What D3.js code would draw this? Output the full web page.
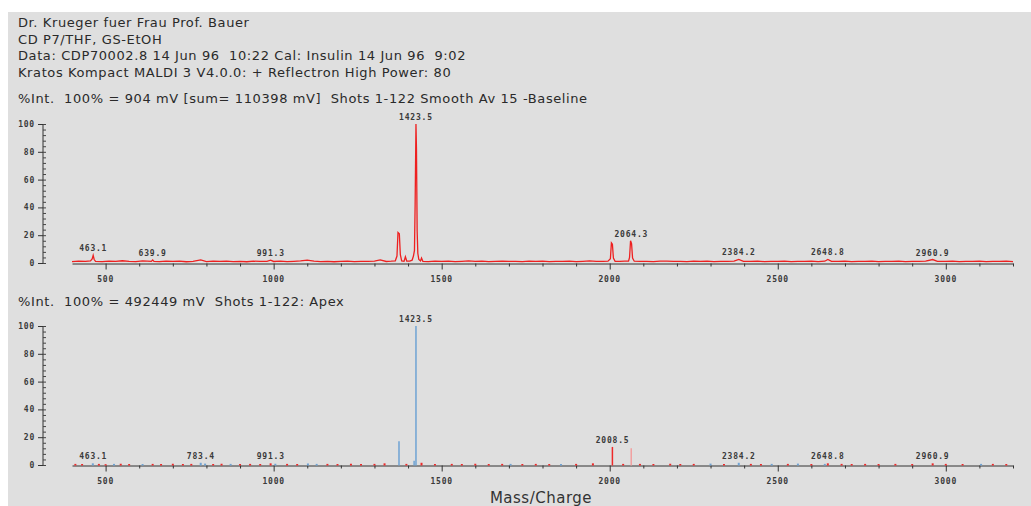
<!DOCTYPE html>
<html>
<head>
<meta charset="utf-8">
<script src="https://cdn.jsdelivr.net/npm/d3@7"></script>
<style>
  body { margin: 0; background: #fff; }
  svg { display: block; }
  .hdr { font: 13px "DejaVu Sans", sans-serif; fill: #2a2a2a; letter-spacing: 0.6px; white-space: pre; }
  .tk { font: bold 8px "DejaVu Sans Mono", monospace; fill: #3a3a3a; letter-spacing: 0.8px; }
</style>
</head>
<body>
<div id="chart"></div>
<script>
// header text
const headerLines = [
  'Dr. Krueger fuer Frau Prof. Bauer',
  'CD P7/THF, GS-EtOH',
  'Data: CDP70002.8 14 Jun 96  10:22 Cal: Insulin 14 Jun 96  9:02',
  'Kratos Kompact MALDI 3 V4.0.0: + Reflectron High Power: 80'
];
const topTitle = '%Int.  100% = 904 mV [sum= 110398 mV]  Shots 1-122 Smooth Av 15 -Baseline';
const bottomTitle = '%Int.  100% = 492449 mV  Shots 1-122: Apex';

const xTicks = [500, 1000, 1500, 2000, 2500, 3000];
const yTicks = [0, 20, 40, 60, 80, 100];

// smoothed profile (m/z, %int)
const topTrace = [
  [400,1.0],[420,1.3],[440,1.1],[455,1.5],[460,3],[463,5.5],[466,2.5],[470,1.2],[490,1.0],[510,1.4],
  [530,1.1],[550,1.6],[570,1.2],[590,1.0],[610,1.5],[636,1.2],[640,2.2],[644,1.2],[660,1.0],[680,1.4],
  [700,1.1],[720,1.3],[740,0.9],[760,1.2],[783,2.3],[800,1.0],[820,1.3],[840,1.1],[860,1.4],[880,1.0],
  [900,1.2],[920,0.9],[940,1.3],[960,1.1],[980,1.2],[991,2.0],[1000,1.1],[1020,1.4],[1040,1.0],[1060,1.2],
  [1080,1.5],[1100,2.1],[1120,1.3],[1140,1.0],[1160,1.2],[1180,0.9],[1200,1.1],[1220,1.3],[1240,1.0],[1260,1.2],
  [1280,1.1],[1300,1.4],[1317,2.2],[1335,1.1],[1350,1.3],[1362,1.6],[1367,5],[1370,22],[1374,21],[1377,6],
  [1381,1.5],[1388,1.2],[1392,4.5],[1396,1.4],[1405,1.3],[1412,2],[1416,5],[1419,9],[1421,42],[1423.5,100],
  [1425,82],[1427,23],[1429,7],[1432,2.5],[1437,1.5],[1440,3.5],[1444,1.2],[1460,1.0],[1480,1.3],[1500,1.1],
  [1520,1.4],[1540,1.0],[1560,1.2],[1580,1.5],[1600,1.1],[1620,1.3],[1640,1.0],[1660,1.2],[1680,1.4],[1700,1.1],
  [1720,1.2],[1740,1.0],[1760,1.3],[1780,1.1],[1800,1.4],[1820,1.0],[1840,1.2],[1860,1.1],[1880,1.3],[1900,1.0],
  [1920,1.2],[1940,1.5],[1960,1.1],[1980,1.2],[1995,1.3],[2002,3],[2005,14.5],[2008,13.5],[2011,3.5],[2016,1.2],
  [2030,1.1],[2045,1.3],[2056,1.4],[2059,4],[2062,16],[2065,14],[2068,3.5],[2073,1.3],[2090,1.1],[2110,1.2],
  [2130,1.0],[2150,1.3],[2170,1.4],[2190,1.1],[2210,1.2],[2230,1.0],[2250,1.3],[2270,1.1],[2290,1.4],[2310,1.0],
  [2330,1.2],[2350,1.1],[2370,1.3],[2384,2.6],[2398,1.2],[2420,1.1],[2440,1.3],[2460,1.0],[2480,1.2],[2500,1.1],
  [2520,1.4],[2540,1.0],[2560,1.2],[2580,1.1],[2600,1.3],[2620,1.0],[2640,1.3],[2649,2.6],[2660,1.2],[2680,1.1],
  [2700,1.3],[2720,1.0],[2740,1.2],[2760,1.1],[2780,1.4],[2800,1.0],[2820,1.2],[2840,1.1],[2860,1.3],[2880,1.0],
  [2900,1.2],[2920,1.1],[2940,1.3],[2961,2.5],[2975,1.2],[3000,1.1],[3020,1.3],[3040,1.0],[3060,1.2],[3080,1.1],
  [3100,1.4],[3120,1.0],[3140,1.2],[3160,1.1],[3180,1.3],[3200,1.0]
];
const topLabels = [
  [463.1, 5.5, '463.1'], [639.9, 2.2, '639.9'], [991.3, 2.0, '991.3'], [1423.5, 100, '1423.5'],
  [2064.3, 16, '2064.3'], [2384.2, 2.6, '2384.2'], [2648.8, 2.6, '2648.8'], [2960.9, 2.5, '2960.9']
];

// apex sticks (m/z, %int)
const apexBlue = [
  [462,1.2],[525,0.8],[610,0.7],[783,1.6],[796,1.0],[872,0.8],[1005,0.9],[1102,1.1],[1128,0.8],[1373,17],
  [1418,3],[1423.5,100],[1705,0.8],[1855,0.7],[2300,1.0],[2384,1.6],[2482,0.8],[2560,1.0],[2640,0.8],[3105,0.8]
];
const apexRed = [
  [410,0.8],[430,0.7],[480,0.8],[500,0.6],[545,0.9],[570,0.7],[640,0.8],[665,0.7],[700,0.9],[730,0.7],
  [755,0.8],[820,0.7],[845,0.9],[900,0.7],[930,0.8],[960,0.7],[991,1.2],[1040,0.8],[1070,0.7],[1160,0.8],
  [1190,0.7],[1230,0.9],[1260,0.7],[1300,0.8],[1330,1.2],[1395,0.8],[1440,1.6],[1480,0.7],[1530,0.8],[1560,0.7],
  [1600,0.9],[1640,0.7],[1680,0.8],[1740,0.7],[1780,0.8],[1820,0.7],[1900,0.8],[1950,1.2],[2008,13],[2040,0.8],
  [2090,0.8],[2130,0.7],[2180,0.9],[2210,0.7],[2250,0.8],[2340,0.7],[2420,0.8],[2450,0.7],[2530,0.8],[2600,0.7],
  [2649,1.2],[2690,0.8],[2720,0.7],[2760,0.8],[2800,0.7],[2850,0.8],[2900,0.7],[2961,1.2],[3000,0.8],[3050,0.7],
  [3140,0.8],[3180,0.7]
];
const apexPink = [[2064,12]];
const bottomLabels = [
  [463.1, 1.2, '463.1'], [783.4, 1.6, '783.4'], [991.3, 1.2, '991.3'], [1423.5, 100, '1423.5'],
  [2008.5, 13, '2008.5'], [2384.2, 1.6, '2384.2'], [2648.8, 1.2, '2648.8'], [2960.9, 1.2, '2960.9']
];

const width = 1031, height = 506;
const svg = d3.select('#chart').append('svg')
  .attr('width', width)
  .attr('height', height);

svg.append('rect')
  .attr('x', 8).attr('y', 12)
  .attr('width', width - 8).attr('height', height - 12)
  .attr('fill', '#dfdfdf');

svg.selectAll('.line1')
  .data(headerLines)
  .enter().append('text')
  .attr('class', 'hdr')
  .attr('x', 18)
  .attr('y', (d, i) => 27 + i * 16.5)
  .text(d => d);

const x = d3.scaleLinear().domain([400, 3200]).range([72, 1013]);

const drawPanel = (y0, y100, title, titleY, labels) => {
  const y = d3.scaleLinear().domain([0, 100]).range([y0, y100]);
  const g = svg.append('g');

  g.append('text').attr('class', 'hdr').attr('x', 18).attr('y', titleY).text(title);

  // y axis
  g.append('line')
    .attr('x1', 43).attr('x2', 43)
    .attr('y1', y(0)).attr('y2', y(100))
    .attr('stroke', '#333');
  g.selectAll('.ymin')
    .data(d3.range(0, 101, 4))
    .enter().append('line')
    .attr('x1', 43).attr('x2', 46)
    .attr('y1', d => y(d) + 0.5).attr('y2', d => y(d) + 0.5)
    .attr('stroke', '#444');
  g.selectAll('.ymaj')
    .data(yTicks)
    .enter().append('line')
    .attr('x1', 38).attr('x2', 43)
    .attr('y1', d => y(d) + 0.5).attr('y2', d => y(d) + 0.5)
    .attr('stroke', '#333');
  g.selectAll('.ylab')
    .data(yTicks)
    .enter().append('text')
    .attr('class', 'tk')
    .attr('x', 35)
    .attr('y', d => y(d) + 3)
    .attr('text-anchor', 'end')
    .text(d => d);

  // x axis
  const xAxis = d3.axisBottom(x)
    .tickValues(d3.range(500, 3201, 100))
    .tickSize(3)
    .tickSizeOuter(0)
    .tickFormat('');
  const ax = g.append('g')
    .attr('transform', `translate(0,${y0 + 0.5})`)
    .call(xAxis);
  ax.select('.domain').attr('stroke', '#333');
  ax.selectAll('.tick line')
    .attr('stroke', '#333')
    .attr('y2', d => d % 500 === 0 ? 6 : 3);
  g.selectAll('.xlab')
    .data(xTicks)
    .enter().append('text')
    .attr('class', 'tk')
    .attr('x', d => x(d))
    .attr('y', y0 + 19)
    .attr('text-anchor', 'middle')
    .text(d => d);

  g.selectAll('.plab')
    .data(labels)
    .enter().append('text')
    .attr('class', 'tk')
    .attr('x', d => x(d[0]))
    .attr('y', d => y(d[1]) - 4)
    .attr('text-anchor', 'middle')
    .text(d => d[2]);

  return { g, y };
};

// top: smoothed trace
const topPanel = drawPanel(263, 124, topTitle, 103, topLabels);
const line = d3.line()
  .x(d => x(d[0]))
  .y(d => topPanel.y(d[1]));
topPanel.g.append('path')
  .datum(topTrace)
  .attr('d', line)
  .attr('fill', 'none')
  .attr('stroke', '#ee2020')
  .attr('stroke-width', 1.3);

// bottom: apex sticks
const bottomPanel = drawPanel(465, 326, bottomTitle, 306, bottomLabels);
const sticks = (data, color) => {
  bottomPanel.g.selectAll(null)
    .data(data)
    .enter().append('line')
    .attr('x1', d => x(d[0])).attr('x2', d => x(d[0]))
    .attr('y1', bottomPanel.y(0) + 0.5)
    .attr('y2', d => bottomPanel.y(d[1]))
    .attr('stroke', color)
    .attr('stroke-width', d => d[1] < 2 ? 2 : 1.5);
};
sticks(apexRed, '#ee2a2a');
sticks(apexPink, '#f2a0a0');
sticks(apexBlue, '#6fa3d4');

svg.append('text')
  .attr('x', 541)
  .attr('y', 503)
  .attr('text-anchor', 'middle')
  .style('font', '15px "DejaVu Sans", sans-serif')
  .style('letter-spacing', '0.5px')
  .style('fill', '#333')
  .text('Mass/Charge');
</script>
</body>
</html>
